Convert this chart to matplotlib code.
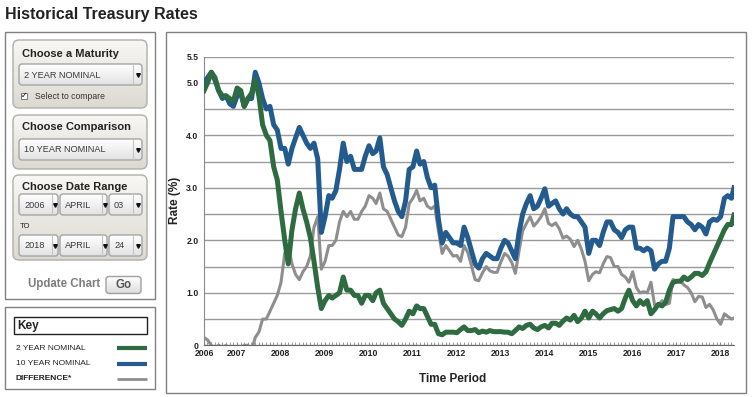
import numpy as np
import pandas as pd
import matplotlib
matplotlib.use("Agg")
import matplotlib.pyplot as plt
import matplotlib.dates as mdates
from matplotlib.patches import FancyBboxPatch, Rectangle
from matplotlib.colors import LinearSegmentedColormap

plt.rcParams["font.family"] = ["Liberation Sans", "DejaVu Sans"]

# monthly readings (3rd of each month, Apr 2006 .. Apr 2018) plus the last day
two_year = [
    4.85, 5.00, 5.20, 5.10, 4.85, 4.75, 4.75, 4.70, 4.65,
    4.90, 4.85, 4.55, 4.70, 4.80, 5.05, 4.75, 4.20, 4.00, 3.90, 3.40, 3.15,
    2.55, 2.00, 1.55, 2.20, 2.60, 2.90, 2.60, 2.35, 2.05, 1.60, 1.10, 0.70,
    0.85, 0.95, 0.90, 0.95, 1.00, 1.30, 1.05, 1.05, 0.95, 0.95, 0.80, 0.95,
    0.95, 0.85, 1.00, 1.05, 0.80, 0.70, 0.60, 0.50, 0.45, 0.38, 0.50, 0.65,
    0.60, 0.75, 0.70, 0.70, 0.55, 0.40, 0.40, 0.22, 0.20, 0.25, 0.25, 0.25,
    0.24, 0.30, 0.35, 0.28, 0.28, 0.30, 0.24, 0.27, 0.25, 0.28, 0.26, 0.26,
    0.26, 0.25, 0.25, 0.22, 0.28, 0.35, 0.32, 0.38, 0.40, 0.33, 0.30, 0.35,
    0.38, 0.33, 0.42, 0.42, 0.38, 0.46, 0.52, 0.48, 0.57, 0.45, 0.52, 0.65,
    0.52, 0.65, 0.60, 0.52, 0.60, 0.66, 0.68, 0.70, 0.65, 0.70, 0.90, 1.05,
    0.85, 0.75, 0.85, 0.78, 0.85, 0.60, 0.68, 0.78, 0.75, 0.82, 1.05, 1.20,
    1.22, 1.22, 1.30, 1.25, 1.30, 1.37, 1.37, 1.33, 1.40, 1.57, 1.73, 1.88,
    2.05, 2.20, 2.30, 2.30, 2.48,
]
ten_year = [
    5.00, 5.10, 5.20, 5.05, 4.85, 4.70, 4.75, 4.60, 4.55,
    4.75, 4.80, 4.55, 4.70, 4.70, 5.20, 5.00, 4.70, 4.50, 4.55, 4.20, 4.10,
    3.75, 3.75, 3.45, 3.75, 3.95, 4.15, 4.00, 3.85, 3.75, 3.85, 3.55, 2.15,
    2.45, 2.85, 2.80, 2.95, 3.35, 3.85, 3.50, 3.60, 3.35, 3.35, 3.35, 3.60,
    3.80, 3.65, 3.70, 3.95, 3.40, 3.25, 3.00, 2.75, 2.55, 2.45, 2.75, 3.35,
    3.40, 3.70, 3.45, 3.50, 3.20, 3.00, 3.05, 2.40, 1.95, 2.15, 2.05, 1.95,
    1.95, 1.90, 2.25, 2.05, 1.80, 1.55, 1.47, 1.65, 1.75, 1.70, 1.65, 1.65,
    1.85, 2.00, 1.95, 1.80, 1.65, 2.15, 2.50, 2.70, 2.85, 2.60, 2.65, 2.80,
    2.98, 2.65, 2.70, 2.75, 2.60, 2.50, 2.60, 2.50, 2.45, 2.45, 2.35, 2.25,
    1.75, 2.00, 2.00, 1.90, 2.15, 2.35, 2.35, 2.20, 2.15, 2.05, 2.20, 2.25,
    2.25, 1.85, 1.85, 1.80, 1.85, 1.80, 1.45, 1.55, 1.60, 1.60, 1.85, 2.45,
    2.45, 2.45, 2.45, 2.35, 2.30, 2.20, 2.30, 2.25, 2.12, 2.35, 2.40, 2.38,
    2.45, 2.80, 2.85, 2.80, 3.00,
]
dates = list(pd.date_range("2006-04-03", "2018-04-03", freq=pd.DateOffset(months=1)))
dates.append(pd.Timestamp("2018-04-24"))

two_year = np.array(two_year)
ten_year = np.array(ten_year)
difference = ten_year - two_year

green = "#2f6b40"
blue = "#245b8e"
grey = "#8e8e8e"

W, H = 754, 397
fig = plt.figure(figsize=(W / 100, H / 100), dpi=100)

# page / controls layer in pixel coords
ui = fig.add_axes([0, 0, 1, 1])
ui.axis("off")


def grad_box(x, y, w, h, c1, c2, r, ec, lw=1.0):
    p = FancyBboxPatch((x + r, y + r), w - 2 * r, h - 2 * r,
                       boxstyle="round,pad=%g" % r, fc="none", ec=ec, lw=lw, zorder=3)
    ui.add_patch(p)
    g = np.linspace(0, 1, 64)[:, None]
    cm = LinearSegmentedColormap.from_list("g", [c1, c2])
    im = ui.imshow(g, extent=(x, x + w, y + h, y), cmap=cm, aspect="auto", zorder=2)
    im.set_clip_path(p)


def dropdown(x, y, w, h, text, arrow_x):
    grad_box(x, y, w, h, "#ffffff", "#e2e2e2", 3, "#a5a5a5")
    ui.plot([arrow_x, arrow_x], [y + 1, y + h - 1], color="#c4c4c4", lw=0.8, zorder=4)
    ui.text(x + 5, y + h / 2 + 0.5, text, fontsize=6.6, color="#3a3a3a", va="center", zorder=5)
    # little down arrow
    ui.plot([(arrow_x + x + w) / 2], [y + h / 2 + 0.5], marker="v", ms=2.6,
            color="#111", zorder=5)


ui.text(5, 14, "Historical Treasury Rates", fontsize=11.5, fontweight="bold",
        color="#222", va="center")

# left panel
ui.add_patch(Rectangle((5, 31.5), 150, 267, fc="white", ec="#808080", lw=1, zorder=1))
box_c1, box_c2, box_ec = "#f8f7f4", "#dcd9d1", "#b0aea8"

grad_box(13, 40, 134, 68, box_c1, box_c2, 6, box_ec)
ui.text(22, 54, "Choose a Maturity", fontsize=8, fontweight="bold", color="#222", va="center", zorder=5)
dropdown(19, 64, 123, 21, "2 YEAR NOMINAL", 133)
ui.add_patch(Rectangle((21, 93), 6, 6, fc="white", ec="#777", lw=0.7, zorder=5))
ui.text(24, 95.8, "\u2713", fontsize=5.5, ha="center", va="center", family="DejaVu Sans", zorder=6)
ui.text(35, 96.5, "Select to compare", fontsize=6.2, color="#333", va="center", zorder=5)

grad_box(13, 115, 134, 54, box_c1, box_c2, 6, box_ec)
ui.text(22, 126.5, "Choose Comparison", fontsize=8, fontweight="bold", color="#222", va="center", zorder=5)
dropdown(19, 139, 123, 21, "10 YEAR NOMINAL", 133)

grad_box(13, 175, 134, 85, box_c1, box_c2, 6, box_ec)
ui.text(22, 186.5, "Choose Date Range", fontsize=8, fontweight="bold", color="#222", va="center", zorder=5)
start_sel = ["2006", "APRIL", "03"]
end_sel = ["2018", "APRIL", "24"]
sel_x = [(19, 39, 52), (60, 47, 102), (109, 33, 133)]
for row_y, sel in [(194, start_sel), (235, end_sel)]:
    for (sx, sw, ax_), txt in zip(sel_x, sel):
        dropdown(sx, row_y, sw, 21, txt, ax_)
ui.text(20, 226, "TO", fontsize=5.5, color="#222", va="center", zorder=5)

ui.text(64, 284.5, "Update Chart", fontsize=8.3, fontweight="bold", color="#7d7d7d",
        ha="center", va="center", zorder=5)
grad_box(106, 276.5, 35, 17, "#ffffff", "#dedede", 3, "#a0a0a0")
ui.text(123.5, 285, "Go", fontsize=8.3, fontweight="bold", color="#555",
        ha="center", va="center", zorder=5)

# key panel
ui.add_patch(Rectangle((5, 306.5), 150, 82, fc="white", ec="#808080", lw=1, zorder=1))
ui.add_patch(Rectangle((14, 317), 133, 17, fc="white", ec="#222", lw=1, zorder=3))
ui.text(17.5, 325.5, "Key", fontsize=8.5, fontweight="bold", color="#222", va="center", zorder=5)
key_names = ["2 YEAR NOMINAL", "10 YEAR NOMINAL", "DIFFERENCE*"]
key_colors = [green, blue, grey]
key_weights = ["normal", "normal", "bold"]
key_widths = [3, 3, 2]
for i, (name, c, fw, lw) in enumerate(zip(key_names, key_colors, key_weights, key_widths)):
    ky = 348 + i * 15.5
    ui.text(16, ky, name, fontsize=6, color="#222", fontweight=fw, va="center", zorder=5)
    ui.plot([117, 147], [ky, ky], color=c, lw=lw, solid_capstyle="butt", zorder=5)

# chart panel
ui.add_patch(Rectangle((166, 31.5), 580, 361, fc="white", ec="#808080", lw=1, zorder=1))
ui.text(175, 200.5, "Rate (%)", fontsize=8.5, fontweight="bold", color="#222",
        rotation=90, ha="center", va="center", zorder=5)
ui.text(453, 379, "Time Period", fontsize=8.5, fontweight="bold", color="#222",
        ha="center", va="center", zorder=5)

ui.set_xlim(0, W)
ui.set_ylim(H, 0)

# the chart itself
x0, x1, y0, y1 = 204, 734, 56.5, 345.3
ax = fig.add_axes([x0 / W, 1 - y1 / H, (x1 - x0) / W, (y1 - y0) / H])
ax.patch.set_alpha(0)
ax.plot(dates, difference, color=grey, lw=2.2, zorder=3)
ax.plot(dates, ten_year, color=blue, lw=3.6, zorder=4, solid_joinstyle="round")
ax.plot(dates, two_year, color=green, lw=3.6, zorder=5, solid_joinstyle="round")

start, end = pd.Timestamp("2006-04-03"), pd.Timestamp("2018-04-24")
ax.set_xlim(start, end)
ax.set_ylim(0, 5.5)

yt = np.arange(0, 5.51, 0.5)
ylabels = ["0", "", "1.0", "", "2.0", "", "3.0", "", "4.0", "", "5.0", "5.5"]
ax.set_yticks(yt)
ax.set_yticklabels(ylabels)
ax.grid(axis="y", color="#9a9a9a", lw=1)
ax.set_axisbelow(True)

years = [start] + [pd.Timestamp("%d-01-01" % y) for y in range(2007, 2019)]
ax.set_xticks(years)
ax.set_xticklabels([str(y) for y in range(2006, 2019)])
ax.xaxis.set_minor_locator(mdates.MonthLocator())
ax.tick_params(axis="x", which="both", direction="in", length=2.5, color="#888",
               labelsize=6.2, pad=3)
ax.tick_params(axis="y", length=0, labelsize=6.2, pad=4)
for lab in ax.get_xticklabels() + ax.get_yticklabels():
    lab.set_fontweight("bold")
    lab.set_color("#222")

for s in ["top", "right"]:
    ax.spines[s].set_visible(False)
ax.spines["left"].set_color("#8a8a8a")
ax.spines["bottom"].set_color("#666")

fig.savefig("out.png", dpi=100)
